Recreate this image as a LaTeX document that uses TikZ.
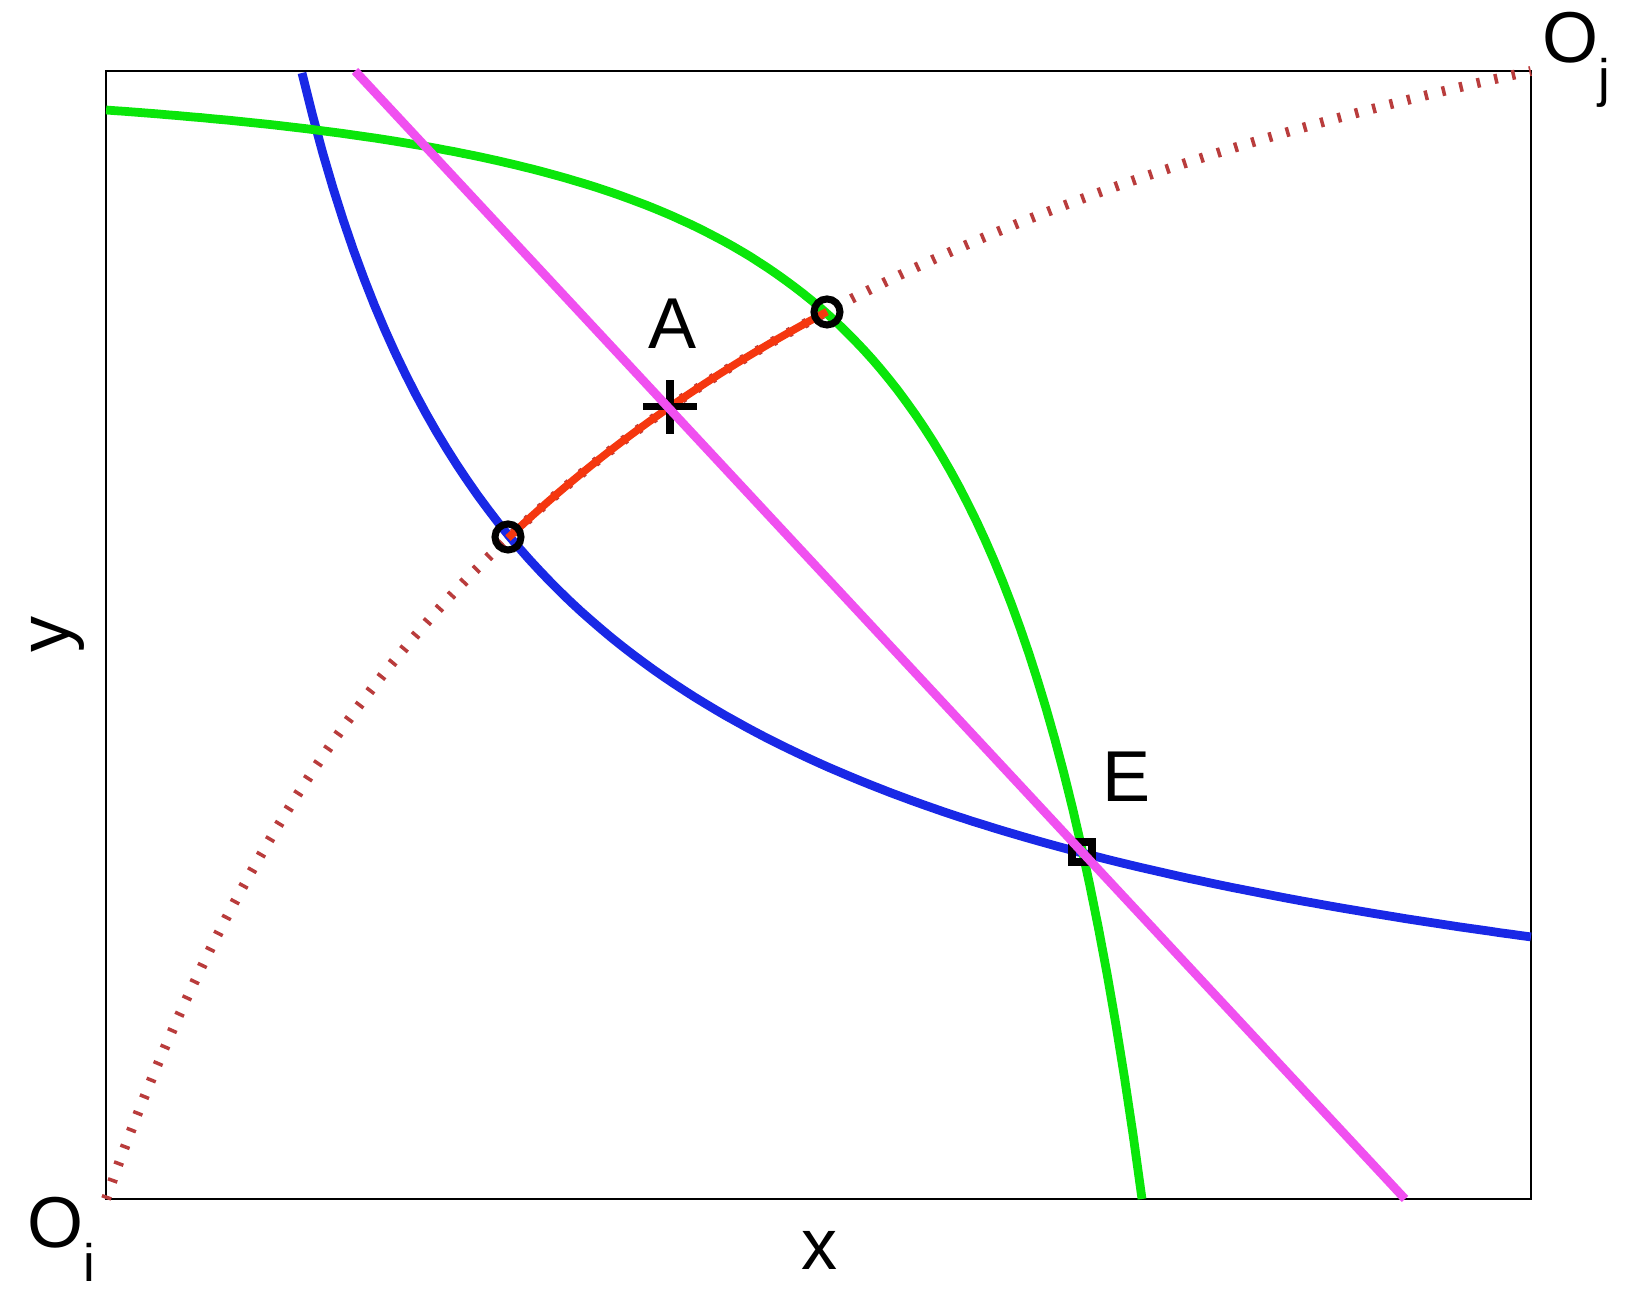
\documentclass[tikz,border=0pt]{standalone}
\usepackage{fontspec}
\setmainfont{Liberation Sans}
\usepackage{xcolor}
\definecolor{curveblue}{RGB}{25,40,230}
\definecolor{curvegreen}{RGB}{10,230,10}
\definecolor{budgetpink}{RGB}{240,80,240}
\definecolor{contractred}{RGB}{245,55,15}
\definecolor{tickred}{RGB}{185,60,60}
\newcommand{\subtxt}[1]{\raisebox{-9.5pt}{\fontsize{15}{18}\selectfont #1}}

\begin{document}
\begin{tikzpicture}[font=\fontsize{20.5}{24}\selectfont]
\useasboundingbox (0,0) rectangle (16.27,13.09);
% Box corners
\coordinate (Oi) at (1.06,1.10);
\coordinate (Oj) at (15.31,12.38);
\draw[line width=0.7pt] (Oi) rectangle (Oj);

% Contract curve (dotted part)
\draw[tickred, line width=2.8pt, dash pattern=on 1pt off 4.1pt]
  plot[domain=0:14.25, samples=120] ({1.06+\x}, {1.10+3.6*11.28*\x/(14.25+2.6*\x)});

% Indifference curve of i
\draw[curveblue, line width=2.5pt]
  plot[domain=1.96:14.25, samples=120] ({1.06+\x}, {1.10+11.26*exp(-0.735*ln(\x/1.96))});

% Indifference curve of j
\draw[curvegreen, line width=2.5pt]
  plot[domain=3.89:14.25, samples=120] ({15.31-\x}, {12.38-11.28*exp(-2.59*ln(\x/3.89))});

% Contract curve (lens part)
\draw[contractred, line width=2.2pt]
  plot[domain=4.02:7.21, samples=40] ({1.06+\x}, {1.10+3.6*11.28*\x/(14.25+2.6*\x)});

% Markers
\coordinate (ci) at (5.08,7.72);
\coordinate (cj) at (8.27,9.97);
\coordinate (A) at (6.70,9.02);
\coordinate (E) at (10.82,4.57);
\draw[line width=2pt] (ci) circle (0.13);
\draw[line width=2pt] (cj) circle (0.13);
\draw[line width=2pt] ([xshift=-0.27cm]A) -- ([xshift=0.27cm]A);
\draw[line width=2pt] ([yshift=-0.27cm]A) -- ([yshift=0.27cm]A);
\draw[line width=2.4pt] ([shift={(-0.1,-0.1)}]E) rectangle ([shift={(0.1,0.1)}]E);

% Budget line
\coordinate (btop) at (3.55,12.38);
\coordinate (bbot) at (14.05,1.10);
\draw[budgetpink, line width=2.5pt] (btop) -- (bbot);

% Labels
\node[inner sep=0pt] (labA) at (6.73,9.85) {A};
\node[inner sep=0pt] (labE) at (11.27,5.32) {E};
\node[inner sep=0pt] (labx) at (8.20,0.59) {x};
\node[inner sep=0pt, rotate=90] (laby) at (0.58,6.74) {y};
\node[inner sep=0pt, anchor=base west] (labOi) at (0.27,0.61) {O\subtxt{i}};
\node[inner sep=0pt, anchor=base west] (labOj) at (15.42,12.46) {O\subtxt{j}};
\end{tikzpicture}
\end{document}
